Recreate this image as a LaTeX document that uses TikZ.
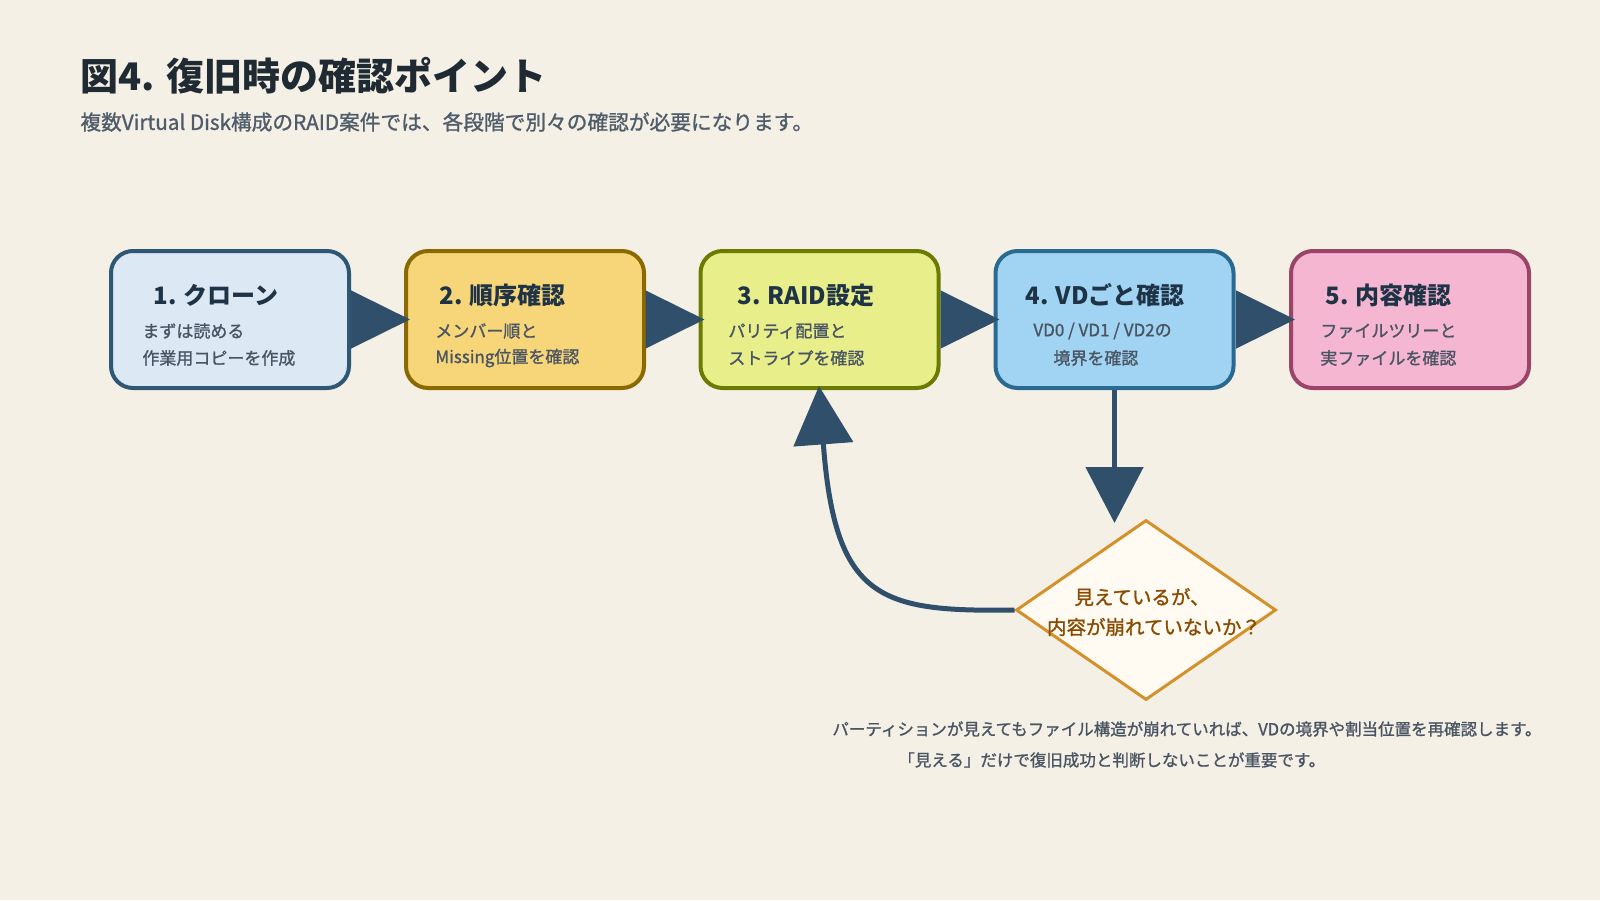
\documentclass[tikz,border=0pt]{standalone}
\usepackage{fontspec}
\setmainfont{Noto Sans CJK JP}
\newfontfamily\medfont[FakeBold=1.2]{Noto Sans CJK JP}
\usetikzlibrary{arrows.meta,shapes.geometric}
\definecolor{bg}{HTML}{F5F0E6}
\definecolor{titlecol}{HTML}{1F2A33}
\definecolor{subcol}{HTML}{4F5D6A}
\definecolor{headcol}{HTML}{1F3347}
\definecolor{bodycol}{HTML}{4A5563}
\definecolor{arrowcol}{HTML}{2F4F6B}
\definecolor{fillA}{HTML}{DCE8F4}\definecolor{lineA}{HTML}{2F5673}
\definecolor{fillB}{HTML}{F7D67A}\definecolor{lineB}{HTML}{8A6A00}
\definecolor{fillC}{HTML}{E8EE8A}\definecolor{lineC}{HTML}{6B7A00}
\definecolor{fillD}{HTML}{A0D4F2}\definecolor{lineD}{HTML}{2A6A90}
\definecolor{fillE}{HTML}{F5B6D2}\definecolor{lineE}{HTML}{9A4468}
\definecolor{diafill}{HTML}{FFFAF2}
\definecolor{dialine}{HTML}{D4902A}
\definecolor{diatext}{HTML}{8A4A00}
\begin{document}
\begin{tikzpicture}[x=0.5pt,y=-0.5pt,
  stepbox/.style={draw, rounded corners=11pt, line width=2pt, minimum width=119pt, minimum height=68.5pt, inner sep=0pt},
  boxtitle/.style={anchor=west, inner sep=0pt, font=\fontsize{12pt}{14pt}\selectfont\bfseries, text=headcol},
  boxbody/.style={anchor=west, inner sep=0pt, font=\medfont\fontsize{8.5pt}{10pt}\selectfont, text=bodycol},
  flow/.style={draw=arrowcol, line width=2.5pt, -{Triangle[length=29.5pt,width=28.5pt]}},
  note/.style={anchor=west, inner sep=0pt, font=\medfont\fontsize{8.25pt}{10pt}\selectfont, text=bodycol}
]
\fill[bg] (0,0) rectangle (1600,900);
\useasboundingbox (0,0) rectangle (1600,900);

% title
\node[anchor=west, inner sep=0pt, font=\fontsize{19pt}{22pt}\selectfont\bfseries, text=titlecol] (title) at (80,76) {図4. 復旧時の確認ポイント};
\node[anchor=west, inner sep=0pt, font=\medfont\fontsize{10.35pt}{12pt}\selectfont, text=subcol] (subtitle) at (80,122) {複数Virtual Disk構成のRAID案件では、各段階で別々の確認が必要になります。};

% boxes
\node[stepbox, fill=fillA, draw=lineA] (b1) at (230,319.5) {};
\node[stepbox, fill=fillB, draw=lineB] (b2) at (525,319.5) {};
\node[stepbox, fill=fillC, draw=lineC] (b3) at (819.5,319.5) {};
\node[stepbox, fill=fillD, draw=lineD] (b4) at (1114.5,319.5) {};
\node[stepbox, fill=fillE, draw=lineE] (b5) at (1410,319.5) {};

% box texts
\node[boxtitle] (t1) at (153,295) {1. クローン};
\node[boxbody] (t1a) at (142,331) {まずは読める};
\node[boxbody] (t1b) at (142,358) {作業用コピーを作成};

\node[boxtitle] (t2) at (439,295) {2. 順序確認};
\node[boxbody] (t2a) at (435,331) {メンバー順と};
\node[boxbody] (t2b) at (435,358) {Missing位置を確認};

\node[boxtitle] (t3) at (737,295) {3. RAID設定};
\node[boxbody] (t3a) at (728,331) {パリティ配置と};
\node[boxbody] (t3b) at (728,358) {ストライプを確認};

\node[boxtitle] (t4) at (1025,295) {4. VDごと確認};
\node[boxbody] (t4a) at (1033,331) {VD0 / VD1 / VD2の};
\node[boxbody] (t4b) at (1053,358) {境界を確認};

\node[boxtitle] (t5) at (1325,295) {5. 内容確認};
\node[boxbody] (t5a) at (1320,331) {ファイルツリーと};
\node[boxbody] (t5b) at (1320,358) {実ファイルを確認};

% arrows between boxes
\draw[flow] (b1.east) -- ([xshift=3pt]b2.west);
\draw[flow] (b2.east) -- ([xshift=3pt]b3.west);
\draw[flow] (b3.east) -- ([xshift=3pt]b4.west);
\draw[flow] (b4.east) -- ([xshift=3pt]b5.west);

% diamond
\node[diamond, draw=dialine, fill=diafill, line width=1.5pt, minimum width=130pt, minimum height=90pt, inner sep=0pt] (dia) at (1146,610) {};
\node[inner sep=0pt, font=\medfont\fontsize{9.75pt}{12pt}\selectfont, text=diatext] (d1) at (1142,597) {見えているが、};
\node[inner sep=0pt, font=\medfont\fontsize{9.75pt}{12pt}\selectfont, text=diatext] (d2) at (1154,627) {内容が崩れていないか？};

% down arrow
\coordinate (dtip) at (1114.5,523);
\draw[draw=arrowcol, line width=2.5pt, -{Triangle[length=28pt,width=28.5pt]}] (b4.south) -- (dtip);

% feedback arrow
\coordinate (fbtip) at (819,386);
\draw[draw=arrowcol, line width=2.5pt, -{Triangle[length=29.25pt,width=29.5pt]}] (dia.west) .. controls (880,612) and (835,600) .. (fbtip);

% notes
\node[note] (n1) at (832,729) {パーティションが見えてもファイル構造が崩れていれば、VDの境界や割当位置を再確認します。};
\node[note] (n2) at (898,760) {「見える」だけで復旧成功と判断しないことが重要です。};
\end{tikzpicture}
\end{document}
